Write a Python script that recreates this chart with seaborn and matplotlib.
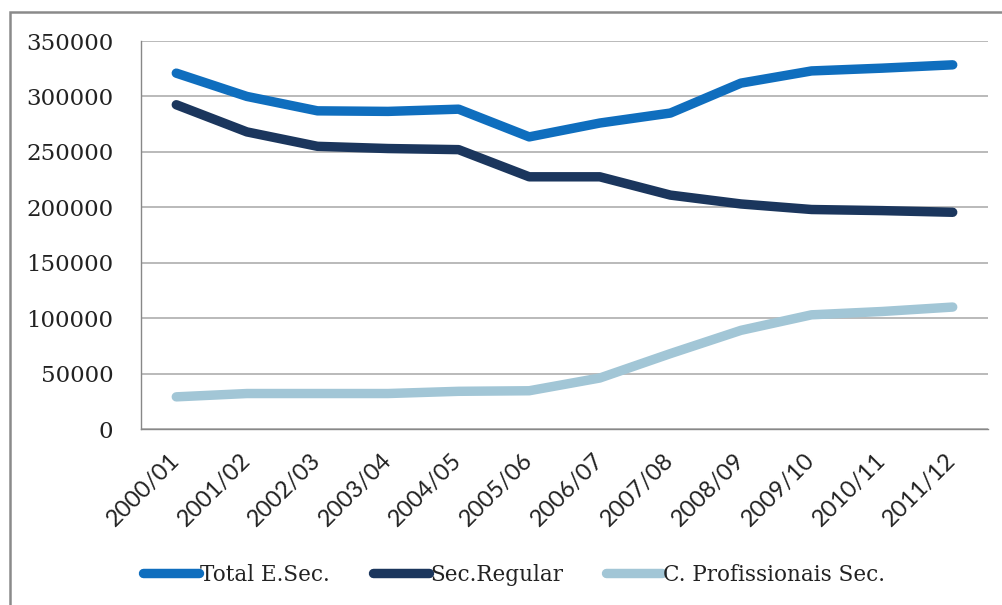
import matplotlib
matplotlib.use("Agg")
import matplotlib.pyplot as plt
import seaborn as sns
import pandas as pd
from matplotlib.patches import Rectangle

# School years
years = ["2000/01", "2001/02", "2002/03", "2003/04", "2004/05", "2005/06",
         "2006/07", "2007/08", "2008/09", "2009/10", "2010/11", "2011/12"]

# Enrolment series
total_esec = [321000, 300000, 287000, 286500, 288500, 263500,
              276000, 285000, 312000, 323000, 325500, 328500]
sec_regular = [292500, 268000, 255000, 253000, 252000, 227500,
               227500, 211000, 203000, 198000, 197000, 195500]
c_prof_sec = [29000, 32000, 32000, 32000, 34000, 34500,
              46000, 68000, 89000, 103000, 106000, 110000]

series_names = ["Total E.Sec.", "Sec.Regular", "C. Profissionais Sec."]
colors = ["#0F6EBE", "#1B365D", "#A2C6D6"]

df = pd.DataFrame({
    "Ano": years * 3,
    "Alunos": total_esec + sec_regular + c_prof_sec,
    "Serie": [series_names[0]] * len(years) + [series_names[1]] * len(years)
             + [series_names[2]] * len(years),
})

sns.set_theme(style="white")
plt.rcParams["font.family"] = ["DejaVu Serif"]

fig = plt.figure(figsize=(10.02, 6.05), dpi=100)
ax = fig.add_axes([141 / 1002, 1 - 429 / 605, (988 - 141) / 1002, (429 - 41) / 605])

x_pos = {y: i for i, y in enumerate(years)}
df["x"] = df["Ano"].map(x_pos)

sns.lineplot(data=df, x="x", y="Alunos", hue="Serie", hue_order=series_names,
             palette=colors, linewidth=6.8, ax=ax, legend=True, sort=False)
for line in ax.get_lines():
    line.set_solid_capstyle("round")
    line.set_solid_joinstyle("round")

ax.set_xlim(-0.5, len(years) - 0.5)
ax.set_ylim(0, 350000)
ax.set_yticks(range(0, 350001, 50000))
ax.set_yticklabels([str(v) for v in range(0, 350001, 50000)], fontsize=16.5, color="#222222")

# Category labels centered on each point, ticks on the boundaries
ax.set_xticks(range(len(years)))
ax.set_xticklabels(years, rotation=45, ha="right", va="center",
                   rotation_mode="anchor", fontsize=17, color="#222222",
                   family=["Lato", "DejaVu Sans"])
ax.tick_params(axis="x", which="major", length=0, pad=20)
ax.set_xticks([i - 0.5 for i in range(len(years) + 1)], minor=True)
ax.tick_params(axis="x", which="minor", length=6, width=1, color="#888888", direction="out")
ax.tick_params(axis="y", length=8, width=1, color="#888888", direction="out", pad=12)

ax.grid(axis="y", color="#b4b4b4", linewidth=1.3)
ax.grid(axis="x", visible=False)
ax.set_axisbelow(True)
for side in ["top", "right"]:
    ax.spines[side].set_visible(False)
for side in ["left", "bottom"]:
    ax.spines[side].set_color("#888888")
    ax.spines[side].set_linewidth(1)
ax.set_xlabel("")
ax.set_ylabel("")

handles, labels = ax.get_legend_handles_labels()
ax.legend_.remove()
leg = fig.legend(handles, labels, loc="center", bbox_to_anchor=(514 / 1002, 1 - 575 / 605),
                 ncol=3, frameon=False, fontsize=15.5, handlelength=2.6, handletextpad=0.05,
                 columnspacing=2.0)
for h in leg.legend_handles:
    h.set_linewidth(6.8)
    h.set_solid_capstyle("round")
for t in leg.get_texts():
    t.set_color("#222222")

# Outer chart frame (continues past the right and bottom edges)
frame_left = 10 / 1002
frame_top = 1 - 12 / 605
fig.patches.append(Rectangle((frame_left, -0.05), 1.1, frame_top + 0.05,
                             transform=fig.transFigure, fill=False,
                             edgecolor="#8a8a8a", linewidth=1.8))

fig.savefig("out.png", dpi=100)
